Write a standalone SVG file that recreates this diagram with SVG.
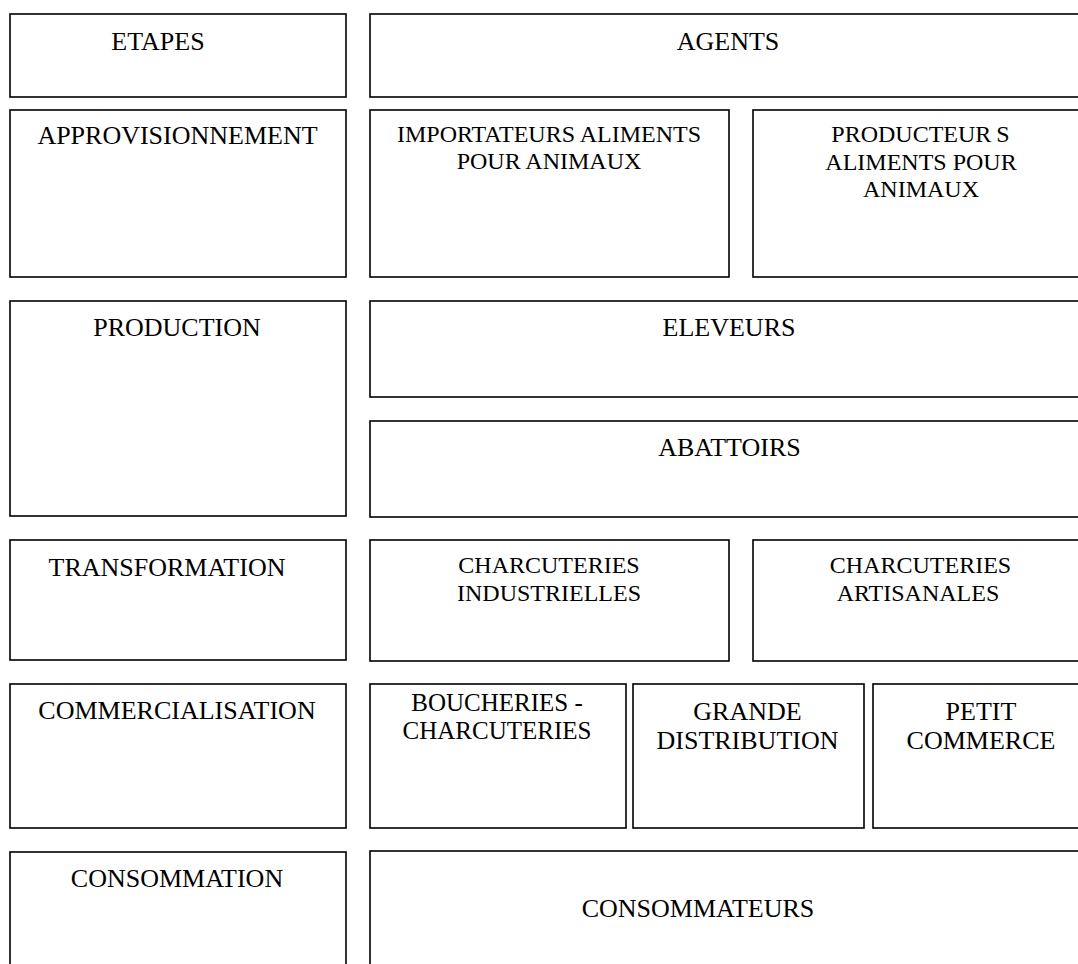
<svg xmlns="http://www.w3.org/2000/svg" width="1078" height="964" viewBox="0 0 1078 964">
<style>
rect{fill:#fff;stroke:#000;stroke-width:1.6}
text{font-family:"Liberation Serif","Times New Roman",serif;font-size:26px;fill:#000;text-anchor:middle}
.s{font-size:24px}
.m{font-size:25px}
</style>
<rect width="1078" height="964" style="stroke:none"/>
<g id="etapes"><rect x="10" y="14" width="336" height="83"/><text x="158" y="50">ETAPES</text></g>
<g id="agents"><rect x="370" y="14" width="717" height="83"/><text x="728" y="50">AGENTS</text></g>
<g id="approvisionnement"><rect x="10" y="110" width="336" height="167"/><text x="177.5" y="144">APPROVISIONNEMENT</text></g>
<g id="importateurs"><rect x="370" y="110" width="359" height="167"/><text class="s" x="549" y="142">IMPORTATEURS ALIMENTS</text><text class="s" x="549" y="169">POUR ANIMAUX</text></g>
<g id="producteurs"><rect x="753" y="110" width="334" height="167"/><text class="s" x="920.5" y="142">PRODUCTEUR<tspan dx="5">S</tspan></text><text class="s" x="921" y="170">ALIMENTS POUR</text><text class="s" x="921" y="197">ANIMAUX</text></g>
<g id="production"><rect x="10" y="301" width="336" height="215"/><text x="177" y="336">PRODUCTION</text></g>
<g id="eleveurs"><rect x="370" y="301" width="717" height="96"/><text x="729" y="336">ELEVEURS</text></g>
<g id="abattoirs"><rect x="370" y="421" width="717" height="96"/><text x="729.5" y="456">ABATTOIRS</text></g>
<g id="transformation"><rect x="10" y="540" width="336" height="120"/><text x="167" y="576">TRANSFORMATION</text></g>
<g id="charcuteries-industrielles"><rect x="370" y="540" width="359" height="121"/><text class="s" x="549" y="573">CHARCUTERIES</text><text class="s" x="549" y="601">INDUSTRIELLES</text></g>
<g id="charcuteries-artisanales"><rect x="753" y="540" width="334" height="121"/><text class="s" x="920.5" y="573">CHARCUTERIES</text><text class="s" x="918" y="601">ARTISANALES</text></g>
<g id="commercialisation"><rect x="10" y="684" width="336" height="144"/><text x="177" y="719">COMMERCIALISATION</text></g>
<g id="boucheries"><rect x="370" y="684" width="256" height="144"/><text class="m" x="497" y="711">BOUCHERIES -</text><text class="m" x="497" y="739">CHARCUTERIES</text></g>
<g id="grande-distribution"><rect x="633" y="684" width="231" height="144"/><text x="747.5" y="720">GRANDE</text><text x="747.5" y="749">DISTRIBUTION</text></g>
<g id="petit-commerce"><rect x="873" y="684" width="216" height="144"/><text x="981" y="720">PETIT</text><text x="981" y="749">COMMERCE</text></g>
<g id="consommation"><rect x="10" y="852" width="336" height="130"/><text x="177" y="887">CONSOMMATION</text></g>
<g id="consommateurs"><rect x="370" y="851" width="717" height="131"/><text x="698" y="917">CONSOMMATEURS</text></g>
<g id="connectors"></g>
</svg>
